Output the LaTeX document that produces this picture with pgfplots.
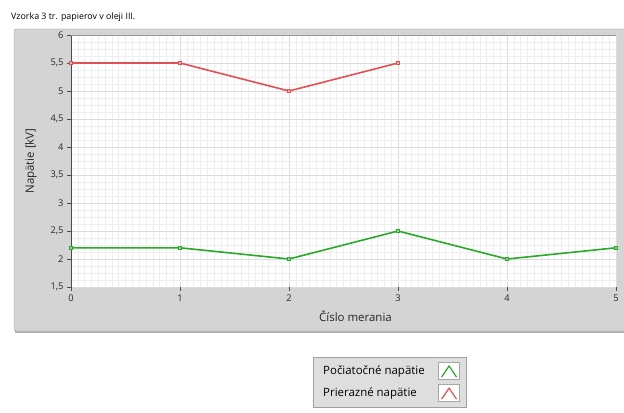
\documentclass[border=0pt]{standalone}
\usepackage{pgfplots}
\pgfplotsset{compat=1.18}
\usepackage{fontspec}
\setmainfont{Open Sans}
\definecolor{panel}{RGB}{212,212,212}
\definecolor{panelborder}{RGB}{160,160,160}
\definecolor{majgrid}{RGB}{220,220,220}
\definecolor{mingrid}{RGB}{238,238,238}
\definecolor{lvred}{RGB}{226,80,86}
\definecolor{lvgreen}{RGB}{40,170,40}
\definecolor{legfill}{RGB}{222,222,222}
\begin{document}
\begin{tikzpicture}[x=1bp,y=1bp]
\useasboundingbox (0,0) rectangle (624,412);
\fill[white] (0,0) rectangle (624,412);
% panel
\fill[gray!60] (15,79) rectangle (640,382);
\draw[panelborder,fill=panel,rounded corners=2bp] (14,81) rectangle (640,383);
\node[anchor=west,font=\fontsize{8.9}{10}\selectfont,inner sep=0pt] at (11,395) {Vzorka 3 tr. papierov v oleji III.};
\begin{axis}[
  at={(71bp,125bp)}, anchor=south west,
  scale only axis, width=545bp, height=252bp,
  xmin=0, xmax=5, ymin=1.5, ymax=6,
  xtick={0,1,2,3,4,5}, ytick={1.5,2,2.5,3,3.5,4,4.5,5,5.5,6},
  minor x tick num=15, minor y tick num=3,
  grid=both,
  major grid style={majgrid, line width=0.6bp},
  minor grid style={mingrid, line width=0.5bp},
  axis background/.style={fill=white},
  axis line style={draw=none},
  tick align=outside,
  major tick length=4bp, minor tick length=0pt,
  tick style={black!70, line width=0.6bp},
  xtick pos=bottom, ytick pos=left,
  /pgf/number format/assume math mode=true,
  ticklabel style={font=\fontsize{9.3}{10}\selectfont, text=black!85},
  yticklabel style={/pgf/number format/.cd, use comma, fixed, fixed zerofill=false},
  xlabel={Číslo merania}, ylabel={Napätie [kV]},
  label style={font=\fontsize{11.5}{13}\selectfont, text=black!85},
  xlabel style={at={(axis description cs:0.522,0)}, anchor=center, yshift=-29bp},
  ylabel style={at={(axis description cs:0,0.5)}, anchor=center, yshift=40bp},
  legend plot pos=right,
  legend cell align=left,
  legend style={at={(axis description cs:0.444,-0.278)}, anchor=north west,
    fill=legfill, draw=panelborder,
    font=\fontsize{11.5}{13}\selectfont, row sep=3.5bp,
    inner xsep=6bp, inner ysep=4.5bp,
    /tikz/every odd column/.append style={column sep=9bp},
    nodes={inner xsep=4bp}},
  legend image code/.code={
    \draw[fill=white,draw=gray!70] (0bp,-8.5bp) rectangle (21bp,8.5bp);
    \draw[#1,mark=none,line width=1.2bp] (3bp,-6bp) -- (10.5bp,5bp) -- (18bp,-6bp);
  },
]
\draw[black!70, line width=1.2bp] (axis cs:0,1.5) -- (axis cs:0,6);
\draw[gray!80, line width=1.2bp] (axis cs:0,6) -- (axis cs:5,6);
\addplot[lvgreen, line width=1.6bp, mark=square*, mark size=1.7bp, mark options={fill=lvgreen!50, draw=lvgreen, line width=0.8bp}] coordinates {
  (0,2.2) (1,2.2) (2,2.0) (3,2.5) (4,2.0) (5,2.2)
};
\addlegendentry{Počiatočné napätie}
\addplot[lvred, line width=1.6bp, mark=square*, mark size=1.7bp, mark options={fill=lvred!50, draw=lvred, line width=0.8bp}] coordinates {
  (0,5.5) (1,5.5) (2,5.0) (3,5.5)
};
\addlegendentry{Prierazné napätie}
\end{axis}
\end{tikzpicture}
\end{document}
